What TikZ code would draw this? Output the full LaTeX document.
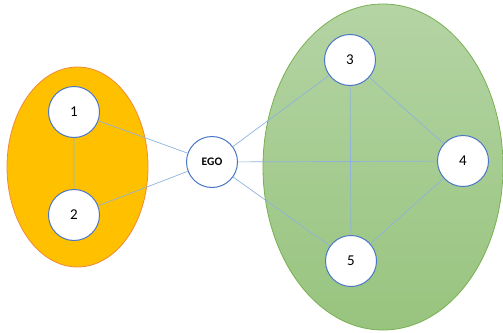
\documentclass[tikz,border=0pt]{standalone}
\usepackage{fontspec}
\setmainfont{Carlito}
\definecolor{orangefill}{HTML}{FFC000}
\definecolor{orangeedge}{HTML}{F08A3A}
\definecolor{greentop}{HTML}{B4D4A4}
\definecolor{greenbot}{HTML}{98C47E}
\definecolor{greenedge}{HTML}{78B052}
\definecolor{nodeedge}{HTML}{4A76C6}
\definecolor{tieblue}{HTML}{8FB3DA}
\begin{document}
\begin{tikzpicture}[x=1pt,y=-1pt,
  vertex/.style={circle,draw=nodeedge,line width=1pt,fill=white,minimum size=51pt,inner sep=0pt,font=\fontsize{15}{15}\selectfont},
  egovertex/.style={vertex,font=\fontsize{11.5}{11.5}\selectfont\bfseries},
  tie/.style={draw=tieblue,line width=0.7pt},
  cluster/.style={line width=0.8pt}]
\useasboundingbox (0,0) rectangle (503,332);
% cluster backgrounds
\fill[cluster,orangefill,draw=orangeedge] (77.5,167) ellipse [x radius=70.5,y radius=100];
\shade[cluster,top color=greentop,bottom color=greenbot] (383,167) ellipse [x radius=120,y radius=163];
\draw[cluster,greenedge] (383,167) ellipse [x radius=120,y radius=163];
% vertices
\node[vertex] (n1) at (74,112) {1};
\node[vertex] (n2) at (74,215) {2};
\node[egovertex] (ego) at (212,162) {EGO};
\node[vertex] (n3) at (350,60) {3};
\node[vertex] (n4) at (463,161) {4};
\node[vertex] (n5) at (351,261) {5};
% ties
\path[tie] (n1) -- (n2) (n1) -- (ego) (n2) -- (ego)
  (ego) -- (n3) (ego) -- (n4) (ego) -- (n5)
  (n3) -- (n4) (n3) -- (n5) (n4) -- (n5);
\end{tikzpicture}
\end{document}
